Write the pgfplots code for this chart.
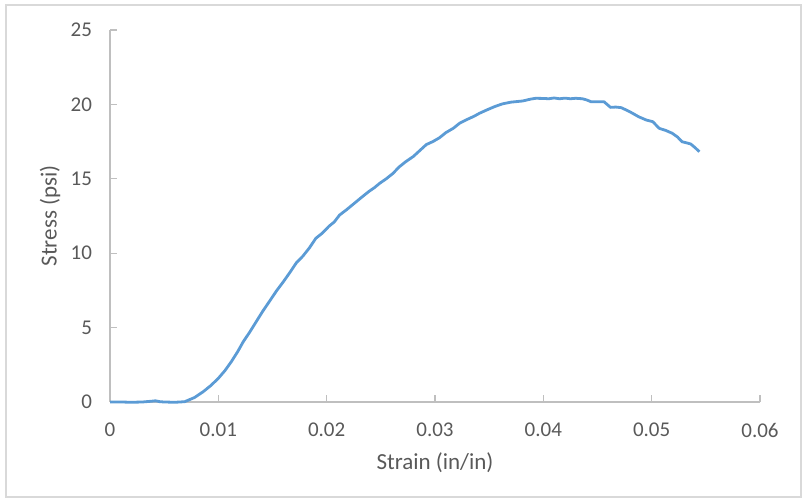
\documentclass[border=0pt]{standalone}
\usepackage{pgfplots}
\pgfplotsset{compat=1.18}
\usepackage{fontspec}
\setmainfont{Carlito}
\definecolor{linebl}{HTML}{5B9BD5}
\definecolor{txtgray}{HTML}{595959}
\definecolor{axgray}{HTML}{BFBFBF}
\definecolor{framegray}{HTML}{D9D9D9}
\begin{document}
\begin{tikzpicture}
\useasboundingbox (0,0) rectangle (402pt,250.5pt);
\draw[framegray, line width=0.8pt] (3pt,2pt) rectangle (400.5pt,248pt);
\begin{axis}[
  at={(55pt,49.5pt)}, anchor=origin,
  scale only axis, width=325pt, height=186pt,
  xmin=0, xmax=0.06, ymin=0, ymax=25,
  axis lines=left, axis line style={axgray, line width=0.6pt, -},
  xtick={0,0.01,0.02,0.03,0.04,0.05,0.06},
  xticklabels={0,0.01,0.02,0.03,0.04,0.05,0.06},
  ytick={0,5,10,15,20,25},
  yticklabels={0,5,10,15,20,25},
  scaled x ticks=false,
  tick align=inside, major tick length=3.5pt,
  tick style={axgray, line width=0.6pt},
  ticklabel style={font=\fontsize{10.5}{12}\selectfont, text=txtgray},
  xticklabel style={yshift=-7pt},
  yticklabel style={xshift=-5.5pt},
  xlabel={Strain (in/in)}, ylabel={Stress (psi)},
  label style={font=\fontsize{11.5}{13}\selectfont, text=txtgray},
  xlabel style={at={(axis description cs:0.5,-0.164)}, anchor=center},
  ylabel style={at={(axis description cs:-0.0923,0.5)}, anchor=center},
  clip=false,
]
\addplot[linebl, line width=1.4pt, line join=round] coordinates {
(0,0) (0.001,0) (0.002,-0.02) (0.003,0) (0.0038,0.05) (0.0042,0.08) (0.0046,0.02)
(0.005,0) (0.006,-0.02) (0.0069,0.02) (0.0078,0.3) (0.0086,0.69) (0.0093,1.1)
(0.0100,1.59) (0.0106,2.1) (0.0112,2.71) (0.0118,3.4) (0.0123,4.05) (0.0129,4.7)
(0.0135,5.40) (0.0141,6.1) (0.0148,6.85) (0.0154,7.5) (0.0160,8.08) (0.0166,8.7)
(0.0172,9.35) (0.0178,9.8) (0.0184,10.35) (0.0190,11.0) (0.0196,11.35) (0.0202,11.8)
(0.0207,12.1) (0.0212,12.57) (0.0218,12.9) (0.0223,13.2) (0.0228,13.5) (0.0233,13.8)
(0.0239,14.15) (0.0244,14.4) (0.0249,14.7) (0.0255,15.0) (0.0261,15.35) (0.0267,15.8)
(0.0273,16.15) (0.0280,16.5) (0.0286,16.9) (0.0292,17.3) (0.0298,17.5) (0.0304,17.75)
(0.0310,18.1) (0.0317,18.4) (0.0323,18.75) (0.0330,19.0) (0.0336,19.2) (0.0341,19.4)
(0.0347,19.6) (0.0355,19.85) (0.0362,20.03) (0.0370,20.15) (0.0381,20.23) (0.0388,20.35)
(0.0393,20.41) (0.0400,20.4) (0.0405,20.38) (0.0410,20.43) (0.0415,20.38) (0.0420,20.42)
(0.0425,20.38) (0.0430,20.41) (0.0436,20.38) (0.0440,20.3) (0.0444,20.18) (0.0450,20.18)
(0.0456,20.18) (0.0462,19.80) (0.0467,19.82) (0.0472,19.78) (0.0480,19.5) (0.0488,19.17)
(0.0495,18.95) (0.0501,18.84) (0.0507,18.39) (0.0513,18.25) (0.0519,18.06) (0.0524,17.8)
(0.0528,17.49) (0.0532,17.42) (0.0536,17.34) (0.0540,17.1) (0.0544,16.82)
};
\end{axis}
\end{tikzpicture}
\end{document}
